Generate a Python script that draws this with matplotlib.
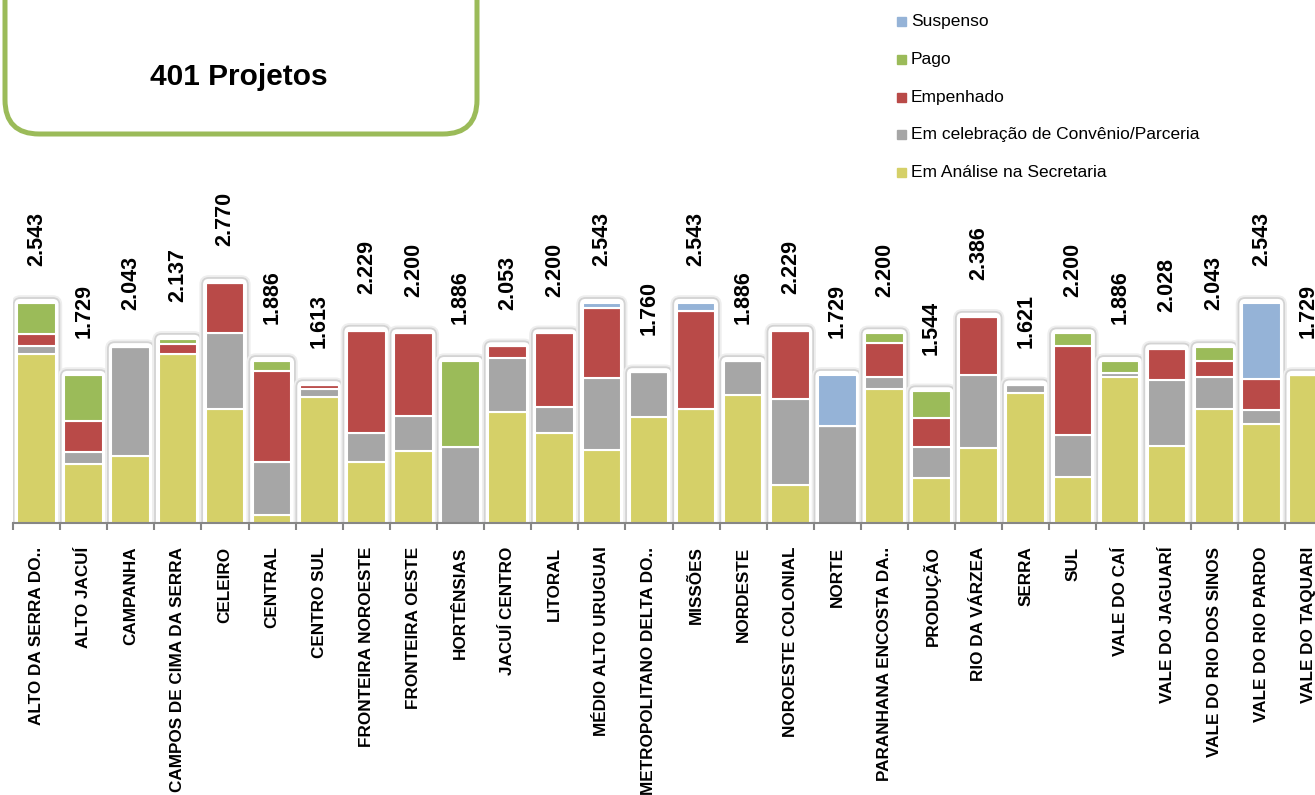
import matplotlib
matplotlib.use("Agg")
import matplotlib.pyplot as plt
from matplotlib.patches import FancyBboxPatch, Rectangle
import numpy as np

# Regions (x axis) and stacked values per status
regions = [
    "ALTO DA SERRA DO..", "ALTO JACUÍ", "CAMPANHA", "CAMPOS DE CIMA DA SERRA",
    "CELEIRO", "CENTRAL", "CENTRO SUL", "FRONTEIRA NOROESTE", "FRONTEIRA OESTE",
    "HORTÊNSIAS", "JACUÍ CENTRO", "LITORAL", "MÉDIO ALTO URUGUAI",
    "METROPOLITANO DELTA DO..", "MISSÕES", "NORDESTE", "NOROESTE COLONIAL",
    "NORTE", "PARANHANA ENCOSTA DA..", "PRODUÇÃO", "RIO DA VÁRZEA", "SERRA",
    "SUL", "VALE DO CAÍ", "VALE DO JAGUARÍ", "VALE DO RIO DOS SINOS",
    "VALE DO RIO PARDO", "VALE DO TAQUARI",
]
analise = [1965, 718, 817, 1963, 1345, 146, 1481, 750, 872, 0, 1315, 1074, 883,
           1252, 1340, 1503, 488, 0, 1567, 568, 902, 1529, 575, 1708, 929, 1348,
           1171, 1729]
celebracao = [94, 135, 1226, 0, 863, 596, 89, 326, 395, 911, 610, 293, 811,
              508, 0, 383, 965, 1152, 138, 351, 831, 92, 477, 47, 746, 357,
              157, 0]
empenhado = [130, 350, 0, 118, 562, 1035, 43, 1153, 933, 0, 128, 833, 798,
             0, 1112, 0, 776, 0, 385, 319, 653, 0, 1006, 0, 353, 187, 355, 0]
pago = [354, 526, 0, 56, 0, 109, 0, 0, 0, 975, 0, 0, 0, 0, 0, 0, 0, 0, 110,
        306, 0, 0, 142, 131, 0, 151, 0, 0]
suspenso = [0, 0, 0, 0, 0, 0, 0, 0, 0, 0, 0, 0, 51, 0, 91, 0, 0, 577, 0, 0, 0,
            0, 0, 0, 0, 0, 860, 0]

series = [
    ("Em Análise na Secretaria", analise, "#D5D068"),
    ("Em celebração de Convênio/Parceria", celebracao, "#A6A6A6"),
    ("Empenhado", empenhado, "#B94A48"),
    ("Pago", pago, "#9BBB59"),
    ("Suspenso", suspenso, "#95B3D7"),
]

fonts = ["Liberation Sans", "DejaVu Sans"]

W, H = 1315, 795
fig = plt.figure(figsize=(W / 100, H / 100), dpi=100)
ax = fig.add_axes([13 / W, 272 / H, 1319 / W, 523 / H])

x = np.arange(len(regions))
totals = np.sum([s[1] for s in series], axis=0)
ymin, ymax = 55, 5970
ax.set_xlim(-0.5, len(regions) - 0.5)
ax.set_ylim(ymin, ymax)

# soft rounded outline behind each stack
px_y = (ymax - ymin) / 523
px_x = len(regions) / 1319
for i, t in enumerate(totals):
    for lw, ec in [(4.0, "#EEEEEE"), (1.3, "#D3D3D3")]:
        box = FancyBboxPatch((i - 0.485, ymin - 100), 0.97,
                             t - ymin + 100 + 5 * px_y,
                             boxstyle="round,pad=0,rounding_size=0.14",
                             mutation_aspect=px_y / px_x,
                             fc="white", ec=ec, lw=lw, zorder=1)
        ax.add_patch(box)

bottom = np.zeros(len(regions))
for name, vals, color in series:
    ax.bar(x, vals, 0.82, bottom=bottom, color=color, edgecolor="white",
           linewidth=1.5, zorder=3)
    bottom += np.array(vals)

# total labels above bars
for i, t in enumerate(totals):
    ax.annotate(f"{t:,}".replace(",", "."), (i, t), xytext=(0, 26.5),
                textcoords="offset points", rotation=90, ha="center",
                va="bottom", fontsize=15.5, fontweight="bold", family=fonts,
                annotation_clip=False)

for side in ["left", "top", "right"]:
    ax.spines[side].set_visible(False)
ax.spines["bottom"].set_color("#868686")
ax.spines["bottom"].set_linewidth(1.5)
ax.spines["bottom"].set_zorder(4)
ax.set_yticks([])
ax.set_xticks(x)
ax.set_xticklabels(regions, rotation=90, fontsize=12.3, fontweight="bold",
                   family=fonts, va="top")
ax.set_xticks(np.arange(-0.5, len(regions), 1), minor=True)
ax.tick_params(axis="x", which="major", length=0, pad=17)
ax.tick_params(axis="x", which="minor", length=5, width=1.5, color="#868686")

# legend, drawn by hand at the top right
for k, (name, vals, color) in enumerate(reversed(series)):
    yc = 21.5 + k * 37.8
    fig.add_artist(Rectangle((897 / W, (H - yc - 4.5) / H), 9 / W, 9 / H,
                             transform=fig.transFigure, color=color))
    fig.text(911 / W, (H - yc) / H, name, ha="left", va="center",
             fontsize=12.5, family=fonts)

# rounded title box
fig.add_artist(FancyBboxPatch((5 / W, 661 / H), 472 / W, 300 / H,
                              boxstyle="round,pad=0,rounding_size=0.026",
                              mutation_aspect=W / H, transform=fig.transFigure,
                              fc="white", ec="#9BBB59", lw=3.6))
fig.text(239 / W, (H - 85) / H, "401 Projetos", ha="center", va="baseline",
         fontsize=21.5, fontweight="bold", family=fonts)

fig.savefig("out.png", dpi=100)
